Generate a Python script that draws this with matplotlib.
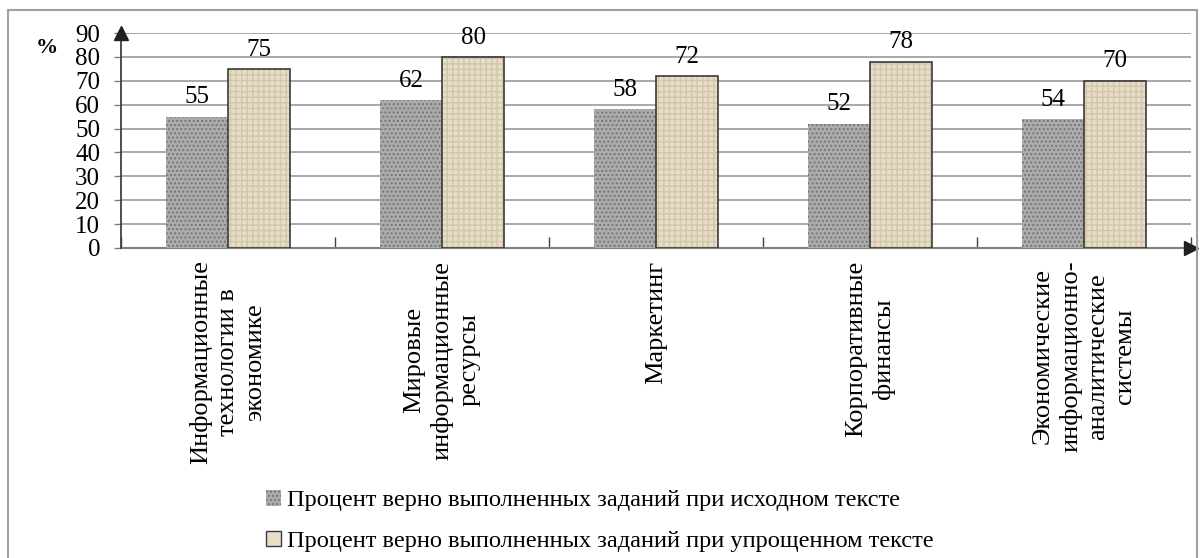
import matplotlib.pyplot as plt
import numpy as np
from matplotlib.patches import Patch, Rectangle

plt.rcParams['font.family'] = ['Liberation Serif', 'DejaVu Serif']
plt.rcParams['hatch.linewidth'] = 1.0

# данные
categories = [
    "Информационные\nтехнологии в\nэкономике",
    "Мировые\nинформационные\nресурсы",
    "Маркетинг",
    "Корпоративные\nфинансы",
    "Экономические\nинформационно-\nаналитические\nсистемы",
]
original_pct = [55, 62, 58, 52, 54]
simplified_pct = [75, 80, 72, 78, 70]
y_ticks = [0, 10, 20, 30, 40, 50, 60, 70, 80, 90]
legend_labels = [
    "Процент верно выполненных заданий при исходном тексте",
    "Процент верно выполненных заданий при упрощенном тексте",
]

GREY_FACE, GREY_HATCH = "#acacac", "#767676"
BEIGE_FACE, BEIGE_HATCH = "#e8dec8", "#d2c5a9"
EDGE = "#3a3a3a"

fig = plt.figure(figsize=(12, 5.58), dpi=100)
ax = fig.add_axes([121 / 1200, 1 - 248 / 558, 1070 / 1200, (248 - 33) / 558])

x = np.arange(len(categories))
w = 0.29

# серые столбцы (исходный текст)
ax.bar(x - w / 2, original_pct, w, color=GREY_FACE, linewidth=0, zorder=3)
ax.bar(x - w / 2, original_pct, w, facecolor="none", edgecolor=GREY_HATCH,
       hatch="....", linewidth=0, zorder=4)
# бежевые столбцы (упрощённый текст)
ax.bar(x + w / 2, simplified_pct, w, color=BEIGE_FACE, linewidth=0, zorder=3)
ax.bar(x + w / 2, simplified_pct, w, facecolor="none", edgecolor=BEIGE_HATCH,
       hatch="+++", linewidth=0, zorder=4)
ax.bar(x + w / 2, simplified_pct, w, facecolor="none", edgecolor=EDGE,
       linewidth=1.2, zorder=5)

for xi, v in zip(x - w / 2, original_pct):
    ax.annotate(str(v), (xi, v), xytext=(0, 6), textcoords="offset points",
                ha="center", va="bottom", fontsize=18)
for xi, v in zip(x + w / 2, simplified_pct):
    ax.annotate(str(v), (xi, v), xytext=(0, 6), textcoords="offset points",
                ha="center", va="bottom", fontsize=18)

ax.set_xlim(-0.5, len(categories) - 0.5)
ax.set_ylim(0, 90)
ax.set_yticks(y_ticks)
ax.tick_params(axis="y", labelsize=18, length=5, width=1, color="#808080", pad=10)
ax.yaxis.grid(True, color="#a8a8a8", linewidth=1.4, zorder=0)
ax.set_axisbelow(True)

ax.set_xticks(x)
ax.set_xticklabels(categories, rotation=90, fontsize=19, ha="center", va="top",
                   multialignment="center", linespacing=1.3)
ax.tick_params(axis="x", length=0, pad=9)
ax.set_xticks(np.arange(len(categories) + 1) - 0.5, minor=True)
ax.tick_params(axis="x", which="minor", direction="in", length=8, width=1, color="#404040")

for s in ["top", "right"]:
    ax.spines[s].set_visible(False)
ax.spines["left"].set_color("#404040")
ax.spines["bottom"].set_color("#808080")
ax.spines["left"].set_linewidth(1.3)
ax.spines["bottom"].set_linewidth(1.5)
ax.spines["left"].set_zorder(6)

# стрелки осей
ax.plot([0], [1], marker="^", markersize=10, color="#202020", transform=ax.transAxes,
        clip_on=False, zorder=7)
ax.plot([1], [0], marker=">", markersize=10, color="#202020", transform=ax.transAxes,
        clip_on=False, zorder=7)

fig.text(47 / 1200, 1 - 48 / 558, "%", fontsize=16, fontweight="bold",
         ha="center", va="center")

# рамка диаграммы
fig.patches.append(Rectangle((8 / 1200, -0.05), 1189 / 1200, 1.05 - 10 / 558,
                             transform=fig.transFigure, fill=False,
                             edgecolor="#a0a0a0", linewidth=1.5))

handles = [
    Patch(facecolor=GREY_FACE, edgecolor=GREY_HATCH, hatch="....", linewidth=0),
    Patch(facecolor=BEIGE_FACE, edgecolor=EDGE, linewidth=1),
]
fig.legend(handles, legend_labels, loc="upper left",
           bbox_to_anchor=(244 / 1200, 1 - 468 / 558), frameon=False, fontsize=17.6,
           handlelength=0.6, handleheight=0.6, handletextpad=0.25, labelspacing=0.8)

fig.savefig("out.png", dpi=100)
